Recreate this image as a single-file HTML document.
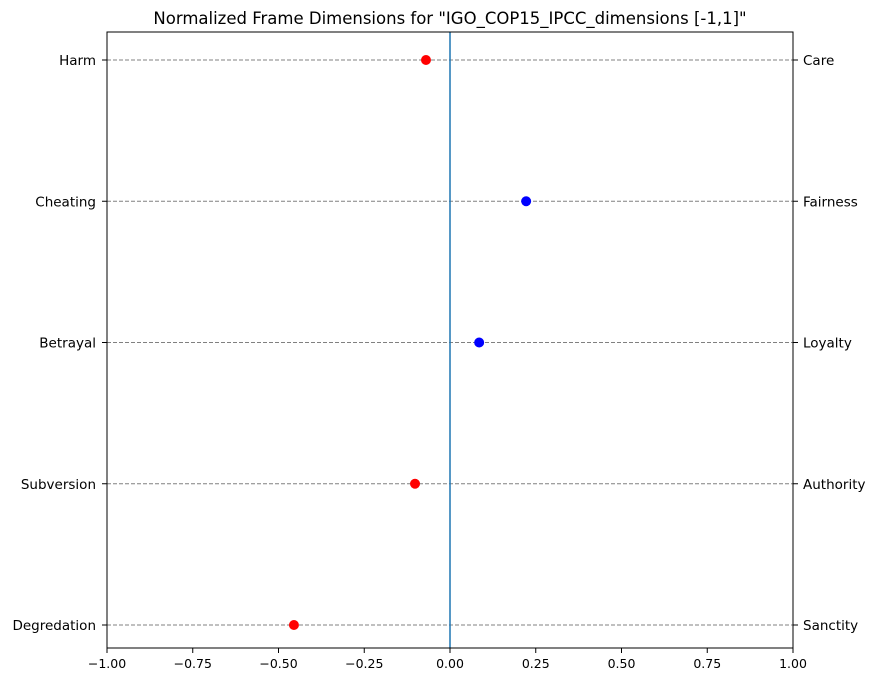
<!DOCTYPE html>
<html><head><meta charset="utf-8"><style>
html,body{margin:0;padding:0;background:#fff;}
svg text{font-family:"DejaVu Sans","Liberation Sans",sans-serif;font-size:12.5px;fill:#000;}
svg text.ylab{font-size:13.5px;}
</style></head><body>
<svg id="chart" width="877" height="687" xmlns="http://www.w3.org/2000/svg">
<text x="450" y="24" text-anchor="middle" style="font-size:16.5px">Normalized Frame Dimensions for "IGO_COP15_IPCC_dimensions [-1,1]"</text>
<g id="grid"></g>
<line x1="450" y1="32" x2="450" y2="648" stroke="#1f77b4" stroke-width="1.5"/>
<g id="marks"></g>
<rect x="107" y="32" width="686" height="616" fill="none" stroke="#000" stroke-width="1"/>
<g id="axes"></g>
</svg>
<script>
const leftLabels=["Harm","Cheating","Betrayal","Subversion","Degredation"];
const rightLabels=["Care","Fairness","Loyalty","Authority","Sanctity"];
const values=[-0.07,0.222,0.085,-0.102,-0.455];
const xTicks=[-1,-0.75,-0.5,-0.25,0,0.25,0.5,0.75,1];
const xTickLabels=["−1.00","−0.75","−0.50","−0.25","0.00","0.25","0.50","0.75","1.00"];
const NS="http://www.w3.org/2000/svg";
const X0=107,X1=793,Ytop=60,Ybot=625;
const xs=v=>X0+(v+1)/2*(X1-X0);
const ys=i=>Ytop+i*(Ybot-Ytop)/(leftLabels.length-1);
function mk(t,a,p){const e=document.createElementNS(NS,t);for(const k in a)e.setAttribute(k,a[k]);p.appendChild(e);return e;}
const grid=document.getElementById('grid'),marks=document.getElementById('marks'),axes=document.getElementById('axes');
leftLabels.forEach((l,i)=>{
 const y=ys(i);
 const g=mk('line',{x1:X0,x2:X1,y1:y,y2:y,stroke:'#808080','stroke-dasharray':'4,2','stroke-width':1},grid);
 
 
 mk('line',{x1:X0-5,x2:X0,y1:y,y2:y,stroke:'#000'},axes);
 mk('line',{x1:X1,x2:X1+5,y1:y,y2:y,stroke:'#000'},axes);
 const t=mk('text',{x:X0-11,y:y+5,'text-anchor':'end','class':'ylab'},axes);t.textContent=l;
 
 
 const r=mk('text',{x:X1+10,y:y+5,'class':'ylab'},axes);r.textContent=rightLabels[i];
 
 
 const c=mk('circle',{cx:xs(values[i]),cy:y,r:5,fill:values[i]<0?'#ff0000':'#0000ff'},marks);
 
 
});
xTicks.forEach((v,i)=>{
 const x=xs(v);
 mk('line',{x1:x,x2:x,y1:648,y2:653,stroke:'#000'},axes);
 const t=mk('text',{x:x,y:668,'text-anchor':'middle'},axes);t.textContent=xTickLabels[i];
 
 
});
</script>
</body></html>
